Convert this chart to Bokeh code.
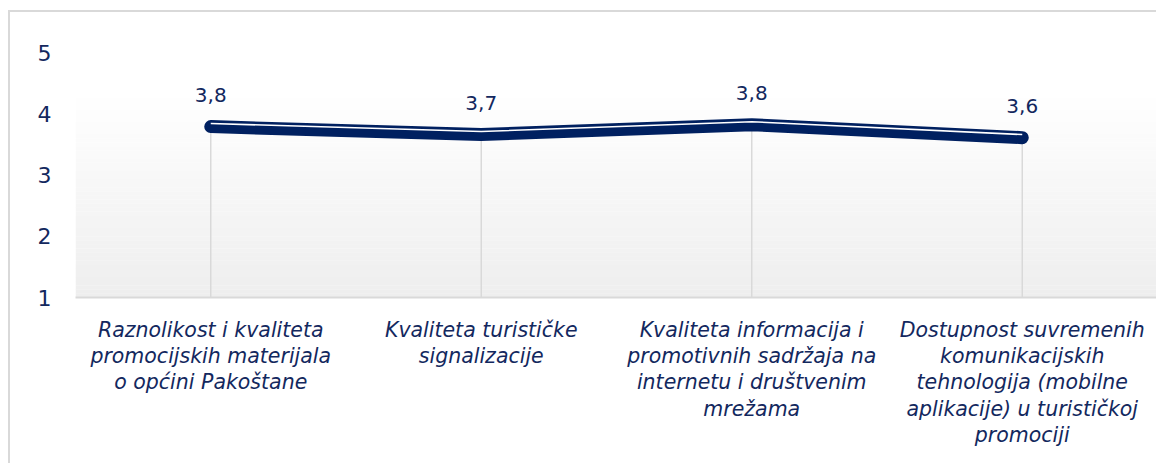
from bokeh.plotting import figure
from bokeh.models import FactorRange, Range1d, FixedTicker, ColumnDataSource
from bokeh.embed import file_html
from bokeh.resources import INLINE
from bokeh.core.properties import value

# ---- data ----
categories = [
    "Raznolikost i kvaliteta\npromocijskih materijala\no općini Pakoštane",
    "Kvaliteta turističke\nsignalizacije",
    "Kvaliteta informacija i\npromotivnih sadržaja na\ninternetu i društvenim\nmrežama",
    "Dostupnost suvremenih\nkomunikacijskih\ntehnologija (mobilne\naplikacije) u turističkoj\npromociji",
]
values = [3.79, 3.66, 3.82, 3.61]
y_ticks = [1, 2, 3, 4, 5]

NAVY = "#002060"
TEXT = "#13285e"
GRAY = "#d9d9d9"
FONT = "DejaVu Sans"

p = figure(
    width=1148, height=453,
    x_range=FactorRange(*categories), y_range=Range1d(1, 5),
    output_backend="svg", toolbar_location=None,
    min_border_left=65, min_border_right=1, min_border_top=40, min_border_bottom=168,
)
p.styles = {"border-left": "2px solid #d9d9d9", "border-top": "2px solid #d9d9d9",
            "border-right": "0px none", "border-bottom": "0px none",
            "margin-left": "8px", "margin-top": "10px"}
p.outline_line_color = None
p.background_fill_color = "white"
p.border_fill_color = "white"
p.xgrid.visible = False
p.ygrid.visible = False

# gradient background (styling)
n = 60
ys, cols = [], []
for i in range(n):
    t = i / (n - 1)
    y0 = 1 + 4 * i / n
    ys.append(y0 + 2 / n)
    c = int(round(238 + (255 - 238) * min(1.0, t / 0.85)))
    cols.append("#%02x%02x%02x" % (c, c, c))
p.hbar(y=ys, height=4 / n + 0.002, left=0, right=len(categories), fill_color=cols, line_color=None)

# drop lines
src = ColumnDataSource(dict(x=categories, y=values, y0=[1] * len(values),
                            yhi=[v + 0.05 for v in values],
                            lab=[("%.1f" % v).replace(".", ",") for v in values]))
p.segment(x0="x", y0="y0", x1="x", y1="y", source=src, line_color=GRAY, line_width=1.5)

# main line with bevel highlight
p.line("x", "y", source=src, line_color=NAVY, line_width=13, line_cap="round", line_join="round")
p.line("x", "yhi", source=src, line_color="white", line_width=1.6, line_join="round")

# data labels
p.text("x", "y", text="lab", source=src, y_offset=-32, text_align="center", text_baseline="middle",
       text_font=value(FONT), text_font_size="20px", text_color=TEXT)

# x axis
xa = p.xaxis[0]
xa.major_label_text_font = FONT
xa.major_label_text_font_style = "italic"
xa.major_label_text_font_size = "20.5px"
xa.major_label_text_color = TEXT
xa.major_label_text_line_height = 1.1
xa.major_label_standoff = 14
xa.major_tick_line_color = None
xa.minor_tick_line_color = None
xa.axis_line_color = GRAY
xa.axis_line_width = 2

# y axis
ya = p.yaxis[0]
ya.ticker = FixedTicker(ticks=y_ticks)
ya.major_label_text_font = FONT
ya.major_label_text_font_size = "22px"
ya.major_label_text_color = TEXT
ya.major_label_standoff = 18
ya.major_tick_line_color = None
ya.minor_tick_line_color = None
ya.axis_line_color = None

open("out.html", "w").write(file_html(p, INLINE))
